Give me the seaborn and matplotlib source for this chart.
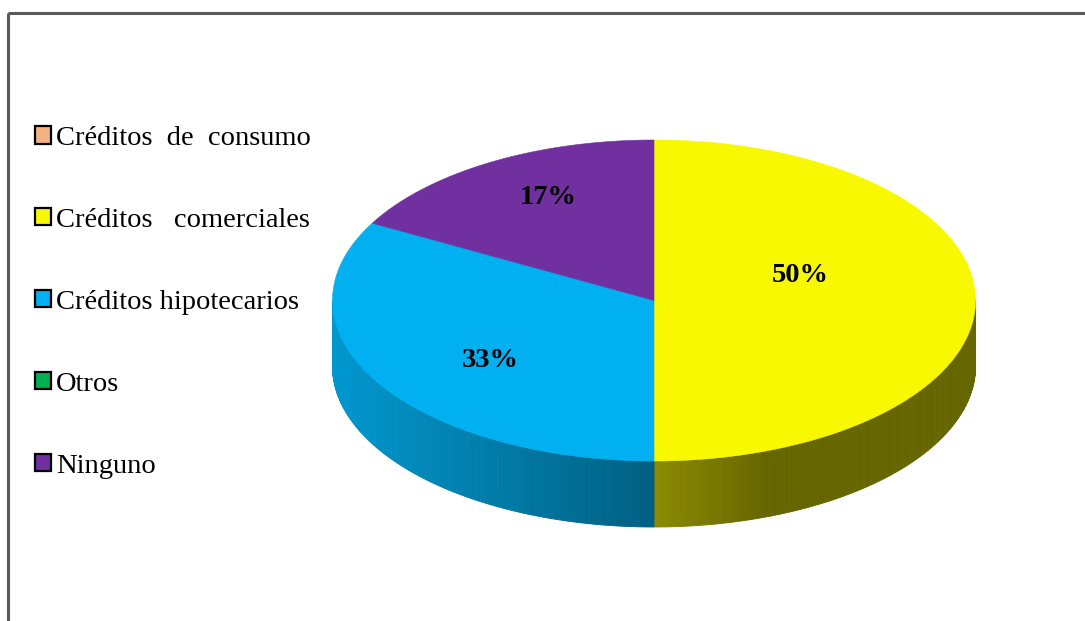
import numpy as np
import matplotlib
matplotlib.use("Agg")
import matplotlib.pyplot as plt
import seaborn as sns
from matplotlib.patches import Polygon, Patch, Rectangle
from matplotlib.colors import to_rgb

# Survey answers: type of credit held (share of respondents, %)
categories = ["Créditos  de  consumo", "Créditos   comerciales",
              "Créditos hipotecarios", "Otros", "Ninguno"]
values = [0, 50, 33, 0, 17]
colors = ["#F4B183", "#F8F800", "#00B0F0", "#00B050", "#7030A0"]

# label placement inside each slice (fraction of radii from the centre)
label_offsets = {1: (0.454, 0.156), 2: (-0.510, -0.374), 4: (-0.330, 0.640)}

sns.set_style("white")
plt.rcParams["font.family"] = ["Liberation Serif", "DejaVu Serif"]
plt.rcParams["text.color"] = "black"

W, H, DPI = 1085, 621, 100
fig = plt.figure(figsize=(W / DPI, H / DPI), dpi=DPI)
ax = fig.add_axes([0, 0, 1, 1])
ax.set_xlim(0, W)
ax.set_ylim(H, 0)
ax.axis("off")

# pie geometry (pixels)
cx, cy, rx, ry, depth = 654, 300.5, 321.5, 160.5, 66


def shade(u):
    # lighting factor for the rim, by horizontal position u in [-1, 1]
    return np.interp(u, [-1, -0.001, 0.001, 0.35, 1.0],
                     [0.86, 0.54, 0.56, 0.41, 0.41])


total = float(sum(values))
start = 90.0
cum = 0.0
slices = []
for i, v in enumerate(values):
    t1 = start - 360.0 * cum / total
    cum += v
    t2 = start - 360.0 * cum / total
    slices.append((i, t1, t2))

# rim (front half only)
for i, t1, t2 in slices:
    if values[i] == 0:
        continue
    n = max(int(abs(t1 - t2) * 2), 2)
    t = np.radians(np.linspace(t1, t2, n + 1))
    base = np.array(to_rgb(colors[i]))
    for k in range(n):
        a, b = t[k], t[k + 1]
        if np.sin(a) > 1e-9 or np.sin(b) > 1e-9:
            continue
        xa, ya = cx + rx * np.cos(a), cy - ry * np.sin(a)
        xb, yb = cx + rx * np.cos(b), cy - ry * np.sin(b)
        c = np.clip(base * shade(np.cos((a + b) / 2)), 0, 1)
        ax.add_patch(Polygon([(xa, ya), (xb, yb), (xb, yb + depth), (xa, ya + depth)],
                             closed=True, facecolor=c, edgecolor=c, lw=0.6, zorder=1))

# top faces
for i, t1, t2 in slices:
    if values[i] == 0:
        continue
    t = np.radians(np.linspace(t1, t2, 400))
    pts = np.column_stack([cx + rx * np.cos(t), cy - ry * np.sin(t)])
    pts = np.vstack([[cx, cy], pts])
    ax.add_patch(Polygon(pts, closed=True, facecolor=colors[i], edgecolor=colors[i],
                         lw=0.4, zorder=2))

# percentage labels
for i, t1, t2 in slices:
    if values[i] == 0:
        continue
    fx, fy = label_offsets[i]
    ax.text(cx + fx * rx, cy - fy * ry, f"{values[i] / total * 100:.0f}%",
            ha="center", va="center", fontsize=20.5, fontweight="bold",
            color="black", zorder=5)

# legend
handles = [Patch(facecolor=c, edgecolor="black", linewidth=1.6) for c in colors]
leg = ax.legend(handles, categories, loc="upper left",
                bbox_to_anchor=(35 / W, 1 - 126 / H), bbox_transform=fig.transFigure,
                frameon=False, fontsize=20.5, handlelength=0.55, handleheight=0.55,
                handletextpad=0.2, labelspacing=2.0, borderpad=0, borderaxespad=0)
for txt in leg.get_texts():
    txt.set_color("black")

# outer frame
ax.add_patch(Rectangle((7.5, 12.5), 1300, 800, fill=False, edgecolor="#5a5a5a",
                       lw=2.2, zorder=10))

fig.savefig("out.png", dpi=DPI)
